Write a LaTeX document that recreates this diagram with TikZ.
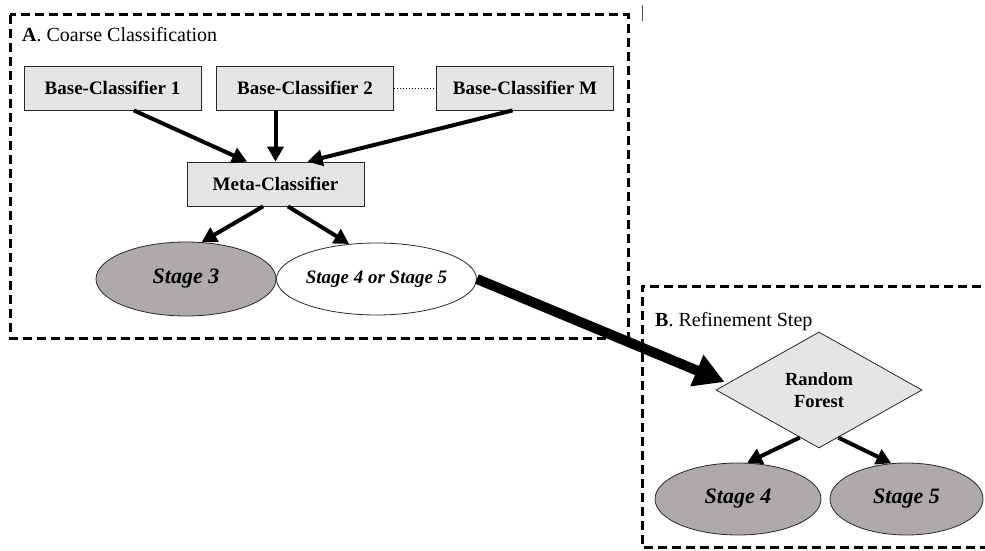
\documentclass[tikz,border=0pt]{standalone}
\usepackage{fontspec}
\setmainfont{Liberation Serif}
\usetikzlibrary{shapes.geometric,arrows.meta,calc}
\definecolor{boxgray}{RGB}{229,229,229}
\definecolor{stagegray}{RGB}{175,170,170}
\definecolor{edgegray}{RGB}{40,40,40}
\begin{document}
\begin{tikzpicture}[x=1pt,y=-1pt,
  box/.style={draw=edgegray, line width=0.8pt, fill=boxgray, minimum width=177pt, minimum height=44pt, inner sep=0pt, font=\fontsize{19}{22}\selectfont\bfseries},
  stage/.style={ellipse, draw=edgegray, line width=0.8pt, inner sep=0pt, font=\fontsize{22}{26}\selectfont\bfseries\itshape},
  region/.style={dash pattern=on 9pt off 5pt, line width=3pt},
  flow/.style={line width=4pt, -{Triangle[length=15pt,width=16pt]}},
  bigflow/.style={line width=10pt, -{Triangle[length=30pt,width=32pt]}},
  title/.style={anchor=base west, inner sep=0pt, font=\fontsize{20}{24}\selectfont},
]
\useasboundingbox (0,0) rectangle (985,551);
\clip (0,0) rectangle (985,551);
\fill[white] (0,0) rectangle (985,551);

% region frames
\draw[region] (10,15) rectangle (628,338);
\draw[region] (995,286) -- (642,286) -- (642,547) -- (995,547);
\coordinate (markA) at (642,5);
\coordinate (markB) at (642,21);
\draw[line width=1pt, black!70] (markA) -- (markB);

% titles
\node[title] (ta) at (22,42) {\textbf{A}. Coarse Classification};
\node[title] (tb) at (655,326) {\textbf{B}. Refinement Step};

% part A
\node[box] (bc1) at (112.5,88) {Base-Classifier 1};
\node[box] (bc2) at (305,88) {Base-Classifier 2};
\node[box] (bcm) at (525,88) {Base-Classifier M};
\node[box] (meta) at (275.5,184) {Meta-Classifier};
\node[stage, fill=stagegray, minimum width=180pt, minimum height=74pt] (s3) at (186,279) {Stage 3};
\node[stage, fill=white, minimum width=177pt, minimum height=72pt, font=\fontsize{19}{22}\selectfont\bfseries\itshape] (s45) at (376.5,279) {Stage 4 or Stage 5};

\draw[dotted, line width=1pt] (bc2.east) -- (bcm.west);

\draw[flow] ($(bc1.south west)!0.62!(bc1.south east)$) -- ($(meta.north west)!0.34!(meta.north east)$);
\draw[flow] (bc2.south -| meta.north) -- (meta.north);
\draw[flow] ($(bcm.south west)!0.43!(bcm.south east)$) -- ($(meta.north west)!0.68!(meta.north east)$);
\draw[flow] ($(meta.south west)!0.43!(meta.south east)$) -- (s3.67);
\draw[flow] ($(meta.south west)!0.57!(meta.south east)$) -- (s45.128);

% part B
\node[diamond, draw=edgegray, line width=0.8pt, fill=boxgray, minimum width=206pt, minimum height=116pt, inner sep=0pt, align=center, font=\fontsize{18.5}{22}\selectfont\bfseries] (rf) at (819,390) {Random\\Forest};
\node[stage, fill=stagegray, minimum width=166pt, minimum height=72pt] (s4) at (738,499) {Stage 4};
\node[stage, fill=stagegray, minimum width=153pt, minimum height=72pt] (s5) at (906.5,499) {Stage 5};

\draw[flow] (rf.248) -- (s4.76);
\draw[flow] (rf.292) -- (s5.113);

\draw[bigflow] (s45.east) -- ($(rf.west)+(9,-8)$);
\end{tikzpicture}
\end{document}
